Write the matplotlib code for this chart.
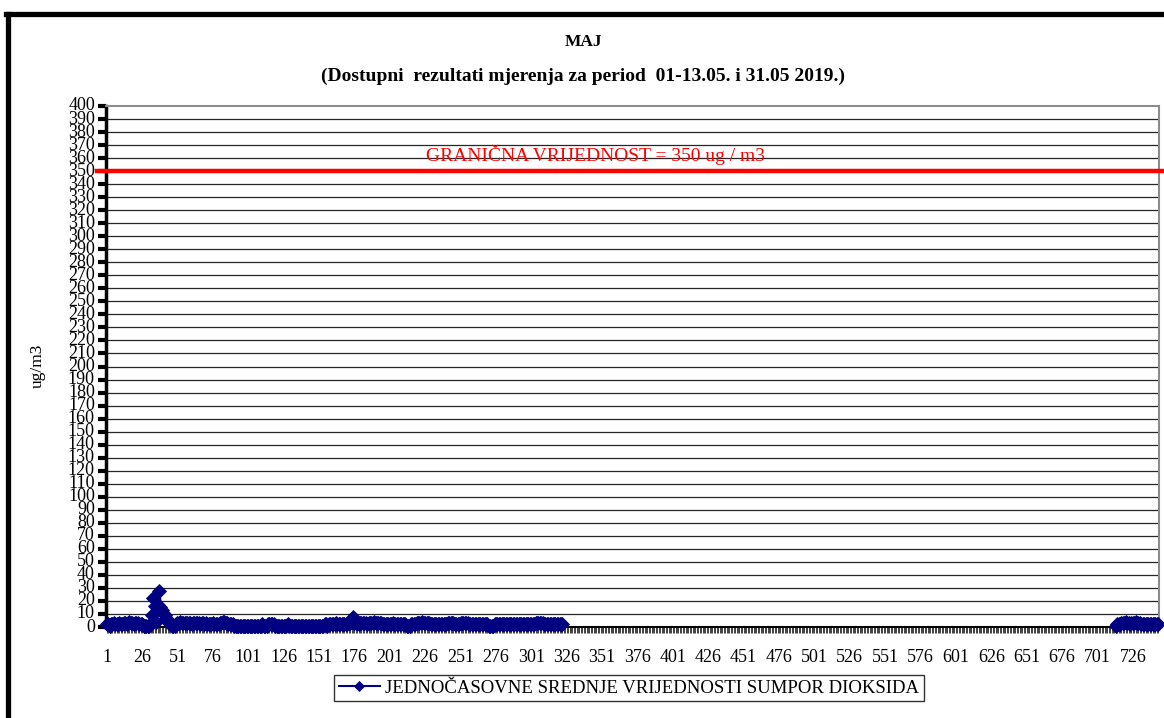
import numpy as np
import matplotlib
matplotlib.use("Agg")
import matplotlib.pyplot as plt
from matplotlib.lines import Line2D

plt.rcParams['font.family'] = ['Liberation Serif', 'DejaVu Serif']

# jednočasovne vrijednosti SO2, sati 1..323 (01-13.05.)
so2_first = [
    2, 2, 1, 2, 2, 3, 2, 2, 2, 3, 2, 2, 3, 3, 2, 3, 4, 3, 3, 2, 3, 3, 3, 2,
    2, 2, 1, 1, 1, 1, 1, 2, 9, 22, 16, 4, 17, 28, 15, 13, 11, 9, 7, 5, 3, 2, 1, 1,
    1, 2, 3, 3, 4, 3, 3, 3, 3, 3, 3, 3, 2, 3, 3, 3, 3, 3, 2, 3, 3, 2, 3, 2,
    2, 2, 2, 3, 2, 2, 2, 2, 3, 3, 4, 4, 3, 3, 2, 2, 2, 2, 1, 1, 1, 1, 1, 1,
    1, 1, 1, 1, 1, 1, 1, 1, 1, 1, 1, 1, 1, 1, 2, 1, 1, 1, 2, 2, 2, 2, 2, 1,
    1, 1, 1, 1, 1, 1, 1, 1, 2, 1, 1, 1, 1, 1, 1, 1, 1, 1, 1, 1, 1, 1, 1, 1,
    1, 1, 1, 1, 1, 1, 1, 1, 1, 1, 2, 2, 1, 2, 2, 2, 2, 2, 3, 2, 2, 2, 2, 2,
    2, 2, 2, 3, 3, 4, 8, 3, 3, 3, 2, 3, 3, 3, 3, 3, 2, 3, 3, 3, 3, 4, 3, 3,
    3, 3, 3, 2, 2, 2, 2, 2, 2, 2, 3, 2, 2, 2, 2, 2, 2, 2, 2, 2, 1, 1, 1, 2,
    2, 2, 2, 3, 3, 3, 3, 4, 3, 3, 3, 3, 3, 2, 2, 2, 2, 2, 2, 2, 2, 2, 2, 2,
    2, 3, 3, 3, 3, 3, 2, 2, 2, 2, 3, 3, 3, 3, 3, 3, 2, 2, 2, 2, 2, 2, 2, 2,
    2, 2, 2, 2, 2, 2, 1, 1, 1, 1, 2, 2, 2, 2, 2, 2, 2, 2, 2, 2, 2, 2, 2, 2,
    2, 2, 2, 2, 2, 2, 2, 2, 2, 2, 2, 2, 2, 2, 2, 3, 3, 3, 3, 3, 3, 2, 2, 2,
    2, 2, 2, 2, 2, 2, 2, 2, 2, 2, 2,
]
# sati 714..744 (31.05.)
end_start = 714
so2_end = [
    1, 2, 2, 2, 3, 3, 3, 4, 3, 3, 2, 3, 3, 3, 4, 3,
    3, 3, 2, 2, 2, 2, 2, 2, 2, 2, 2, 2, 2, 2, 2,
]
n_hours = 744
limit_value = 350
tick_labels = list(range(1, n_hours + 1, 25))

hours = np.arange(1, n_hours + 1)
values = np.full(n_hours, np.nan)
values[:len(so2_first)] = so2_first
values[end_start - 1:end_start - 1 + len(so2_end)] = so2_end

W, H = 1164, 718
fig = plt.figure(figsize=(W / 100, H / 100), dpi=100)
ax = fig.add_axes([106 / W, 1 - 627 / H, 1053 / W, 521 / H])

# grid
for v in range(10, 400, 10):
    ax.axhline(v, color='0.15', lw=0.9, zorder=1)

ax.plot(hours, values, color='#000080', lw=2.2, marker='D', markersize=7,
        markeredgewidth=0.6, zorder=3, clip_on=False,
        label='JEDNOČASOVNE SREDNJE VRIJEDNOSTI SUMPOR DIOKSIDA')

ax.axhline(limit_value, xmin=-0.009, xmax=1.01, color='red', lw=3.2,
           zorder=4, clip_on=False)
ax.text(595 / W, 1 - 155 / H, 'GRANIČNA VRIJEDNOST = 350 ug / m3',
        transform=fig.transFigure, color='red', fontsize=14,
        ha='center', va='center')

ax.set_xlim(0.5, n_hours + 0.5)
ax.set_ylim(0, 400)

ax.set_yticks(range(0, 401, 10))
ax.tick_params(axis='y', direction='out', length=6, width=3, color='black',
               labelsize=13, pad=2)
for t in ax.get_yticklabels():
    t.set_verticalalignment('center')

ax.set_xticks(tick_labels)
ax.set_xticklabels([str(t) for t in tick_labels])
ax.set_xticks(hours, minor=True)
ax.tick_params(axis='x', which='both', direction='out', length=4.5, width=0.7,
               color='0.25', labelsize=13, pad=11)

for s in ['top', 'right']:
    ax.spines[s].set_color('0.55')
    ax.spines[s].set_linewidth(1.5)
ax.spines['left'].set_linewidth(2.5)
ax.spines['bottom'].set_linewidth(1.5)

fig.text(583 / W, 1 - 42 / H, 'MAJ', fontsize=12.5, fontweight='bold',
         ha='center', va='center')
fig.text(583 / W, 1 - 76 / H,
         '(Dostupni  rezultati mjerenja za period  01-13.05. i 31.05 2019.)',
         fontsize=14, fontweight='bold', ha='center', va='center')
fig.text(38 / W, 1 - 366 / H, 'ug/m3', fontsize=12.5, rotation=90,
         ha='center', va='center')

leg = ax.legend(loc='center', bbox_to_anchor=(629 / W, 1 - 688 / H),
                bbox_transform=fig.transFigure, fontsize=13.5, frameon=True,
                fancybox=False, edgecolor='black', handlelength=2.2,
                borderpad=0.25, handletextpad=0.3)
leg.get_frame().set_linewidth(1.0)
leg.legend_handles[0].set_markersize(5.5)
leg.legend_handles[0].set_linewidth(1.5)

# outer border
fig.add_artist(Line2D([8 / W, 8 / W], [0, 1 - 14 / H], color='black',
                      lw=3.8, transform=fig.transFigure))
fig.add_artist(Line2D([6 / W, 1], [1 - 14 / H, 1 - 14 / H], color='black',
                      lw=3.8, transform=fig.transFigure))

fig.savefig('out.png', dpi=100)
